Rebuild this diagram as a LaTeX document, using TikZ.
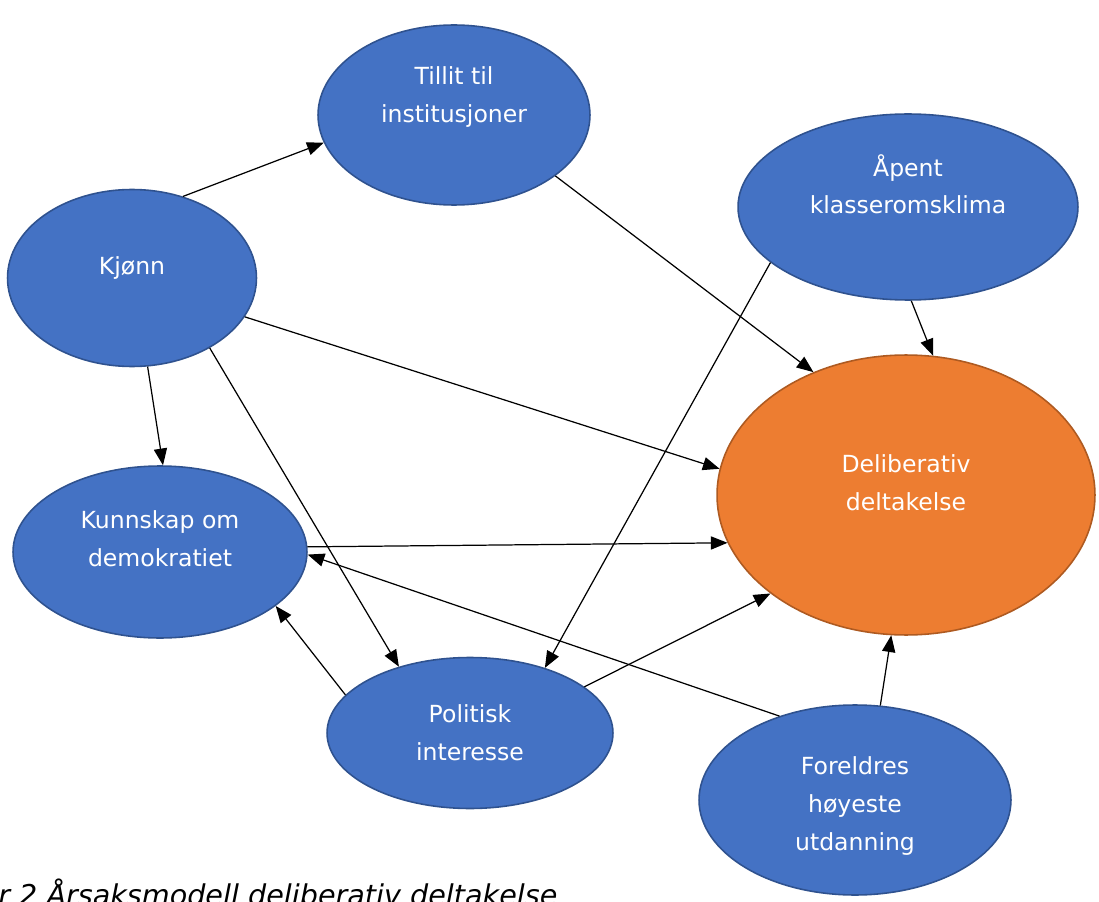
\documentclass[tikz,border=0pt]{standalone}
\usepackage{fontspec}
\setmainfont{DejaVu Sans}
\usetikzlibrary{shapes.geometric,arrows.meta}
\definecolor{factorblue}{HTML}{4472C4}
\definecolor{factorline}{HTML}{2F528F}
\definecolor{outcomeorange}{HTML}{ED7D31}
\definecolor{outcomeline}{HTML}{AE5A21}

\begin{document}
\begin{tikzpicture}[x=0.02cm, y=-0.02cm,
    factor/.style={ellipse, draw=factorline, fill=factorblue, line width=0.9pt,
      text=white, align=center, inner sep=0pt,
      font=\fontsize{13.4}{21.5}\selectfont},
    outcome/.style={factor, draw=outcomeline, fill=outcomeorange},
    effect/.style={-{Triangle[length=9.5pt,width=7.5pt]}, line width=0.7pt}]
            \useasboundingbox (0,0) rectangle (1099,902);
            % Define vertices
            \node[factor, minimum width=5.44cm, minimum height=3.6cm, text depth=23pt] (tillit) at (454,115) {Tillit til\\institusjoner};
            \node[factor, minimum width=6.8cm, minimum height=3.72cm, text depth=26pt] (apent) at (908,207) {Åpent\\klasseromsklima};
            \node[factor, minimum width=4.98cm, minimum height=3.54cm, text depth=14pt] (kjonn) at (132,278) {Kjønn};
            \node[outcome, minimum width=7.56cm, minimum height=5.6cm, text depth=14pt] (delib) at (906,495) {Deliberativ\\deltakelse};
            \node[factor, minimum width=5.88cm, minimum height=3.44cm, text depth=15pt] (kunnskap) at (160,552) {Kunnskap om\\demokratiet};
            \node[factor, minimum width=5.72cm, minimum height=3.02cm] (politisk) at (470,733) {Politisk\\interesse};
            \node[factor, minimum width=6.24cm, minimum height=3.8cm, text height=60pt] (foreldre) at (855,800) {Foreldres\\høyeste\\utdanning};
            % Caption
            \node[anchor=base west, inner sep=0pt, font=\fontsize{16.3}{20}\selectfont\itshape] (caption) at (-2,905) {r 2 Årsaksmodell deliberativ deltakelse};
            % Draw edges
            \draw[effect] (kjonn.58) -- (tillit.192);
            \draw[effect] (tillit.329) -- (delib.127);
            \draw[effect] (apent.202) -- (politisk.41);
            \draw[effect] (apent.272) -- (delib.79);
            \draw[effect] (kjonn.341) -- (delib.172);
            \draw[effect] (kjonn.280) -- (kunnskap.88);
            \draw[effect] (kjonn.318) -- (politisk.137);
            \draw[effect] (kunnskap.2) -- (delib.195);
            \draw[effect] (foreldre.132) -- (kunnskap.359);
            \draw[effect] (politisk.163) -- (kunnskap.335);
            \draw[effect] (politisk.22) -- (delib.216);
            \draw[effect] (foreldre.75) -- (delib.264);
        \end{tikzpicture}
\end{document}
